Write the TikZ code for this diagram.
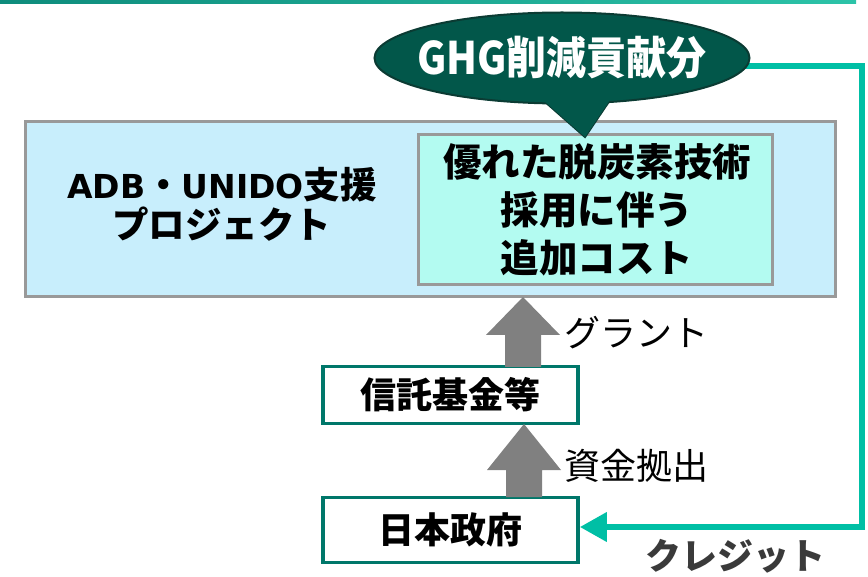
\documentclass[tikz,border=0pt]{standalone}
\usepackage{fontspec}
\setmainfont{Noto Sans CJK JP}
\newfontfamily\latinb{DejaVu Sans}
\usetikzlibrary{shapes.geometric,arrows.meta}
\definecolor{projfill}{HTML}{C8EEFC}
\definecolor{costfill}{HTML}{B3FBF1}
\definecolor{greyedge}{HTML}{999999}
\definecolor{ghgfill}{HTML}{02574A}
\definecolor{ghgedge}{HTML}{0B3B33}
\definecolor{tealedge}{HTML}{00776A}
\definecolor{creditgreen}{HTML}{00BFA5}
\definecolor{arrowgrey}{HTML}{808080}
\definecolor{toplineL}{HTML}{0E8C7C}
\definecolor{toplineR}{HTML}{2CC3A8}
\definecolor{labelgrey}{HTML}{3A3A3A}
\begin{document}
\begin{tikzpicture}[x=1pt,y=-1pt,
  greybox/.style={draw=greyedge, line width=3pt, inner sep=0pt},
  tealbox/.style={draw=tealedge, line width=3.5pt, fill=white, minimum width=255pt, minimum height=57pt, inner sep=0pt, font=\bfseries\fontsize{36}{40}\selectfont},
  garrow/.style={fill=arrowgrey},
  credit/.style={draw=creditgreen, line width=6.5pt},
  flowlabel/.style={font=\fontsize{36}{40}\selectfont, text=black, inner sep=0pt}
]
\useasboundingbox (0,0) rectangle (868,577);
% top rule
\shade[left color=toplineL, right color=toplineR] (0,0.5) rectangle (856,4);
% project boxes
\node[greybox, fill=projfill, minimum width=810pt, minimum height=175pt] (proj) at (430,209.5) {};
\node[greybox, fill=costfill, minimum width=354pt, minimum height=150pt] (cost) at (595,210) {};
\node[align=center, inner sep=0pt, font=\bfseries\fontsize{38.5}{48}\selectfont] (costtxt) at (597,210) {優れた脱炭素技術\\採用に伴う\\追加コスト};
\node[align=center, inner sep=0pt, font=\bfseries\fontsize{36.5}{40}\selectfont] (projtxt) at (222,204) {{\latinb\fontsize{33}{40}\selectfont ADB}・{\latinb\fontsize{33}{40}\selectfont UNIDO}支援\\プロジェクト};
% credit connector (under the bubble)
\coordinate (cs) at (740,66);
\coordinate (cr) at (862,66);
% fund boxes
\node[tealbox] (fund) at (450.5,395) {信託基金等};
\node[tealbox, minimum height=65pt] (gov) at (450.5,530) {日本政府};
\draw[credit, -{Triangle[length=27pt,width=28pt]}] (cs) -- (cr) |- ([yshift=3pt]gov.east);
% GHG bubble
\node[ellipse, fill=ghgfill, draw=ghgedge, line width=2pt, minimum width=375pt, minimum height=91pt, inner sep=0pt] (ghg) at (562,58) {};
\node[text=white, inner sep=0pt, yscale=1.12, font=\bfseries\fontsize{40}{44}\selectfont] (ghgtxt) at (ghg.center) {GHG削減貢献分};
\draw[ghgedge, line width=2pt, line join=miter] (546.9,103.5) -- (585,137) -- (608.6,102.1);
\fill[ghgfill] (535,93) -- (585,137) -- (614.7,93) -- cycle;
% grey block arrows
\fill[garrow] (505,367) -- (505,335) -- (486,335) -- (523,297) -- (560,335) -- (541,335) -- (541,367) -- cycle;
\fill[garrow] (506,497) -- (506,470) -- (487,470) -- (524,424) -- (561,470) -- (542,470) -- (542,497) -- cycle;
% labels
\node[flowlabel] (grant) at (636,333) {グラント};
\node[flowlabel] (fundout) at (636,466) {資金拠出};
\node[flowlabel, text=labelgrey, font=\bfseries\fontsize{36}{40}\selectfont] (creditlbl) at (735,556) {クレジット};
\end{tikzpicture}
\end{document}
